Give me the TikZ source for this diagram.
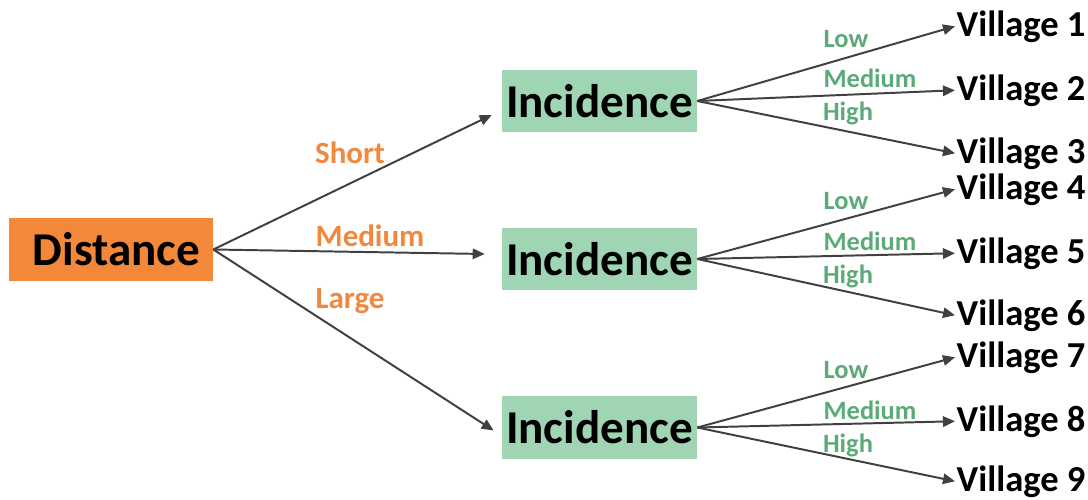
\documentclass[tikz,border=0pt]{standalone}
\usepackage{fontspec}
\setmainfont{Carlito}
\usetikzlibrary{arrows.meta,calc}
\definecolor{orbox}{HTML}{F4883A}
\definecolor{ortext}{HTML}{F0883E}
\definecolor{grbox}{HTML}{9FD5B3}
\definecolor{grtext}{HTML}{5BAA78}
\definecolor{arrowc}{HTML}{404040}
\begin{document}
\begin{tikzpicture}[x=0.025cm,y=-0.025cm,
  distbox/.style={fill=orbox,minimum width=5.1cm,minimum height=1.575cm,inner sep=0pt,font=\bfseries\fontsize{33.5}{36}\selectfont},
  incbox/.style={fill=grbox,minimum width=4.875cm,minimum height=1.55cm,inner sep=0pt,font=\bfseries\fontsize{33.5}{36}\selectfont},
  vill/.style={anchor=base west,inner sep=1pt,font=\bfseries\fontsize{26}{28}\selectfont},
  olab/.style={text=ortext,inner sep=0pt,font=\bfseries\fontsize{22}{24}\selectfont},
  glab/.style={text=grtext,inner sep=0pt,font=\bfseries\fontsize{18.8}{21}\selectfont},
  arr/.style={draw=arrowc,line width=1.4pt,-{Triangle[length=3mm,width=2.6mm]}}
]
\useasboundingbox (0,0) rectangle (1088,500);
\node[distbox] (dist) at (111,249.5) {\hspace*{8pt}Distance};
\node[incbox] (inc1) at (599.5,101) {Incidence};
\node[incbox] (inc2) at (599.5,259) {Incidence};
\node[incbox] (inc3) at (599.5,427.5) {Incidence};

\node[vill] (v1) at (955,36) {Village 1};
\node[vill] (v2) at (955,100) {Village 2};
\node[vill] (v3) at (955,163) {Village 3};
\node[vill] (v4) at (955,199) {Village 4};
\node[vill] (v5) at (955,263) {Village 5};
\node[vill] (v6) at (955,325) {Village 6};
\node[vill] (v7) at (955,367) {Village 7};
\node[vill] (v8) at (955,431) {Village 8};
\node[vill] (v9) at (955,491) {Village 9};

\draw[arr] (dist.east) -- ($(inc1.west)+(-10,14)$);
\draw[arr] (dist.east) -- ($(inc2.west)+(-17,-5)$);
\draw[arr] (dist.east) -- ($(inc3.west)+(-8,3)$);

\foreach \i/\a/\b/\c in {1/1/2/3,2/4/5/6,3/7/8/9}{
  \draw[arr] (inc\i.east) -- (v\a.west);
  \draw[arr] (inc\i.east) -- (v\b.west);
  \draw[arr] (inc\i.east) -- (v\c.west);
}

\node[olab] (ls) at (350,153) {Short};
\node[olab] (lm) at (370,236) {Medium};
\node[olab] (ll) at (350,301) {Large};

\node[glab] (g1l) at (846,39) {Low};
\node[glab] (g1m) at (870,78) {Medium};
\node[glab] (g1h) at (848,113) {High};
\node[glab] (g2l) at (846,201) {Low};
\node[glab] (g2m) at (870,241) {Medium};
\node[glab] (g2h) at (848,276) {High};
\node[glab] (g3l) at (846,370) {Low};
\node[glab] (g3m) at (870,410) {Medium};
\node[glab] (g3h) at (848,445) {High};
\end{tikzpicture}
\end{document}
